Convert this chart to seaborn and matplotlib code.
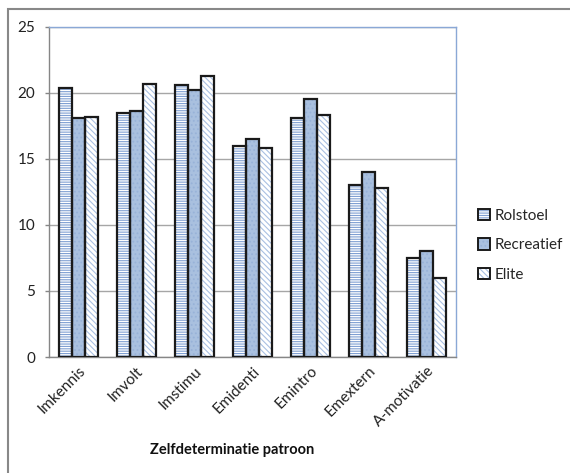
import matplotlib
matplotlib.use("Agg")
import matplotlib.pyplot as plt
from matplotlib.patches import Rectangle
from matplotlib.legend_handler import HandlerTuple
import seaborn as sns
import pandas as pd

categories = ["Imkennis", "Imvolt", "Imstimu", "Emidenti", "Emintro", "Emextern", "A-motivatie"]
groups = ["Rolstoel", "Recreatief", "Elite"]
rolstoel = [20.4, 18.5, 20.6, 16.0, 18.1, 13.0, 7.5]
recreatief = [18.1, 18.6, 20.2, 16.5, 19.55, 14.0, 8.0]
elite = [18.2, 20.7, 21.3, 15.8, 18.3, 12.8, 6.0]
y_ticks = [0, 5, 10, 15, 20, 25]

df = pd.DataFrame({
    "patroon": categories * 3,
    "groep": [g for g in groups for _ in categories],
    "score": rolstoel + recreatief + elite,
})

sns.set_theme(style="white")
plt.rcParams["font.family"] = ["Lato", "DejaVu Sans"]
plt.rcParams["hatch.linewidth"] = 0.8

# face colour, hatch pattern, hatch colour per group
styles = {
    "Rolstoel": ("white", "-------", "#7f9fd2"),
    "Recreatief": ("#a9c0df", "....", "#98b2d8"),
    "Elite": ("white", "\\\\\\\\\\\\", "#a9c0e2"),
}

fig = plt.figure(figsize=(5.70, 4.73), dpi=100)
ax = fig.add_axes([49 / 570, 1 - 357 / 473, 407 / 570, 330 / 473])

sns.barplot(data=df, x="patroon", y="score", hue="groep", hue_order=groups,
            order=categories, width=0.67, ax=ax, legend=False,
            palette={g: styles[g][0] for g in groups}, saturation=1)

for container, g in zip(ax.containers, groups):
    face, hatch, hcol = styles[g]
    for bar in container:
        bar.set_facecolor(face)
        bar.set_hatch(hatch)
        bar.set_edgecolor(hcol)
        bar.set_linewidth(0)
        ax.add_patch(Rectangle((bar.get_x(), bar.get_y()), bar.get_width(), bar.get_height(),
                               fill=False, edgecolor="#1a1a1a", linewidth=1.6, zorder=3))

ax.set_ylim(0, 25)
ax.set_yticks(y_ticks)
ax.set_yticklabels([str(t) for t in y_ticks], fontsize=11, color="#222222")
ax.set_xlim(-0.5, len(categories) - 0.5)
ax.set_axisbelow(True)
ax.yaxis.grid(True, color="#a6a6a6", linewidth=1)
ax.xaxis.grid(False)
ax.tick_params(axis="y", length=3, width=1, color="#868686", left=True, pad=7)
ax.tick_params(axis="x", length=0, pad=5)
ax.set_xticks(range(len(categories)))
ax.set_xticklabels(categories, rotation=45, ha="right", rotation_mode="anchor",
                   fontsize=11, color="#222222")
ax.set_ylabel("")
ax.set_xlabel("Zelfdeterminatie patroon", fontsize=10.5, fontweight="bold",
              color="#111111", labelpad=12)
ax.xaxis.set_label_coords(0.45, -0.262)

for side in ("left", "bottom"):
    ax.spines[side].set_color("#868686")
    ax.spines[side].set_linewidth(1)
for side in ("top", "right"):
    ax.spines[side].set_color("#8aa8d6")
    ax.spines[side].set_linewidth(1)

# legend entries: hatched fill under a dark outline
handles = []
for g in groups:
    face, hatch, hcol = styles[g]
    fill = Rectangle((0, 0), 1, 1, facecolor=face, hatch=hatch, edgecolor=hcol, linewidth=0)
    outline = Rectangle((0, 0), 1, 1, fill=False, edgecolor="#1a1a1a", linewidth=1.4)
    handles.append((fill, outline))
fig.legend(handles, groups, loc="upper left", bbox_to_anchor=(472 / 570, 1 - 203 / 473),
           frameon=False, fontsize=11, handlelength=0.75, handleheight=0.75,
           handletextpad=0.3, labelspacing=1.0, borderaxespad=0,
           handler_map={tuple: HandlerTuple(ndivide=1)})

# chart area border
fig.add_artist(Rectangle((8 / 570, -0.1), 1.2, 1 - 9 / 473 + 0.1, transform=fig.transFigure,
                         fill=False, edgecolor="#888888", linewidth=1.5))

fig.savefig("out.png", dpi=100)
